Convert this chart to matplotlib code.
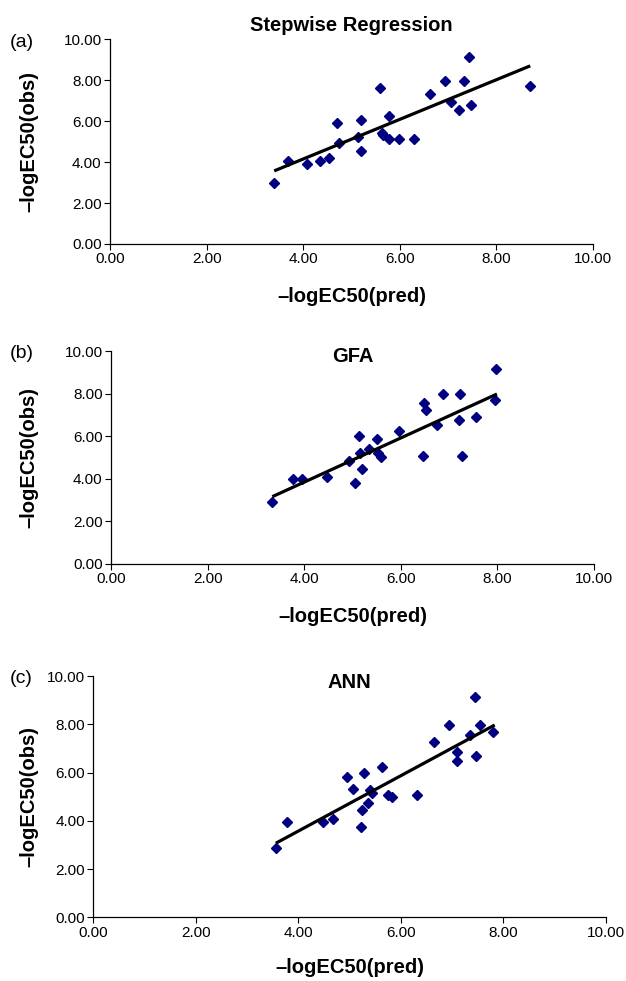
import matplotlib
matplotlib.use("Agg")
import matplotlib.pyplot as plt
from matplotlib.ticker import FormatStrFormatter

plt.rcParams['font.family'] = ['Liberation Sans', 'DejaVu Sans']

# (a) Stepwise Regression
step_pred = [3.40, 3.68, 4.07, 4.35, 4.53, 4.71, 4.74, 5.14, 5.20, 5.20,
             5.59, 5.64, 5.66, 5.78, 5.78, 5.99, 6.29, 6.63, 6.93, 7.05,
             7.23, 7.32, 7.44, 7.48, 8.69]
step_obs = [2.97, 4.07, 3.91, 4.07, 4.20, 5.93, 4.92, 5.21, 6.06, 4.56,
            7.64, 5.44, 5.32, 6.27, 5.13, 5.13, 5.13, 7.34, 7.98, 6.95,
            6.55, 7.98, 9.15, 6.78, 7.70]
step_line_x = [3.40, 8.70]
step_line_y = [3.57, 8.70]

# (b) GFA
gfa_pred = [3.34, 3.76, 3.95, 4.48, 4.93, 5.06, 5.13, 5.16, 5.20, 5.35,
            5.51, 5.53, 5.58, 5.96, 6.45, 6.48, 6.52, 6.74, 6.87, 7.23,
            7.20, 7.27, 7.56, 7.94, 7.97]
gfa_obs = [2.91, 3.98, 3.98, 4.10, 4.84, 3.80, 6.01, 5.20, 4.47, 5.38,
           5.87, 5.23, 5.04, 6.24, 5.07, 7.57, 7.23, 6.51, 7.98, 7.98,
           6.76, 5.07, 6.89, 7.70, 9.15]
gfa_line_x = [3.34, 7.99]
gfa_line_y = [3.16, 7.98]

# (c) ANN
ann_pred = [3.56, 3.78, 4.48, 4.68, 4.95, 5.07, 5.23, 5.25, 5.28, 5.36,
            5.39, 5.43, 5.64, 5.74, 5.83, 6.32, 6.64, 7.09, 7.09, 7.47,
            7.44, 6.94, 7.54, 7.34, 7.79]
ann_obs = [2.88, 3.95, 3.94, 4.06, 5.81, 5.33, 3.76, 4.46, 5.99, 4.75,
           5.28, 5.14, 6.22, 5.07, 4.97, 5.06, 7.26, 6.86, 6.49, 6.70,
           9.12, 7.97, 7.97, 7.55, 7.69]
ann_line_x = [3.56, 7.83]
ann_line_y = [3.07, 7.97]

ticks = [0, 2, 4, 6, 8, 10]

panels = [
    # tag, title, pred, obs, line x, line y, axes rect, title y, xlabel y, ylabel x
    ('(a)', 'Stepwise Regression', step_pred, step_obs, step_line_x, step_line_y,
     [0.1757, 0.7513, 0.7716, 0.2087], 1.065, -0.21, -0.148),
    ('(b)', 'GFA', gfa_pred, gfa_obs, gfa_line_x, gfa_line_y,
     [0.1773, 0.4251, 0.7716, 0.2171], 0.975, -0.20, -0.15),
    ('(c)', 'ANN', ann_pred, ann_obs, ann_line_x, ann_line_y,
     [0.1490, 0.0649, 0.8190, 0.2460], 0.975, -0.17, -0.108),
]

fig = plt.figure(figsize=(6.26, 9.81), dpi=100)

for tag, title, pred, obs, lx, ly, rect, ty, xly, ylx in panels:
    ax = fig.add_axes(rect)
    ax.plot(pred, obs, linestyle='none', marker='D', markersize=5.2,
            color='#000080', markeredgecolor='#000080')
    ax.plot(lx, ly, color='black', linewidth=2.3, solid_capstyle='butt')

    ax.set_xlim(0, 10)
    ax.set_ylim(0, 10)
    ax.set_xticks(ticks)
    ax.set_yticks(ticks)
    ax.xaxis.set_major_formatter(FormatStrFormatter('%.2f'))
    ax.yaxis.set_major_formatter(FormatStrFormatter('%.2f'))
    ax.tick_params(direction='out', length=4, width=0.8, labelsize=11, pad=2)
    for side in ['top', 'right']:
        ax.spines[side].set_visible(False)
    for side in ['left', 'bottom']:
        ax.spines[side].set_linewidth(0.9)

    ax.set_xlabel('\u2013logEC50(pred)', fontsize=14.5, fontweight='bold')
    ax.set_ylabel('\u2013logEC50(obs)', fontsize=14.5, fontweight='bold')
    ax.xaxis.set_label_coords(0.5, xly)
    ax.yaxis.set_label_coords(ylx, 0.5)

    ax.text(0.5, ty, title, transform=ax.transAxes, ha='center', va='center',
            fontsize=14.5, fontweight='bold')

    # panel tag at the top-left corner
    fig.text(0.016, rect[1] + rect[3] - 0.003, tag, ha='left', va='center',
             fontsize=14)

fig.savefig('out.png', dpi=100)
